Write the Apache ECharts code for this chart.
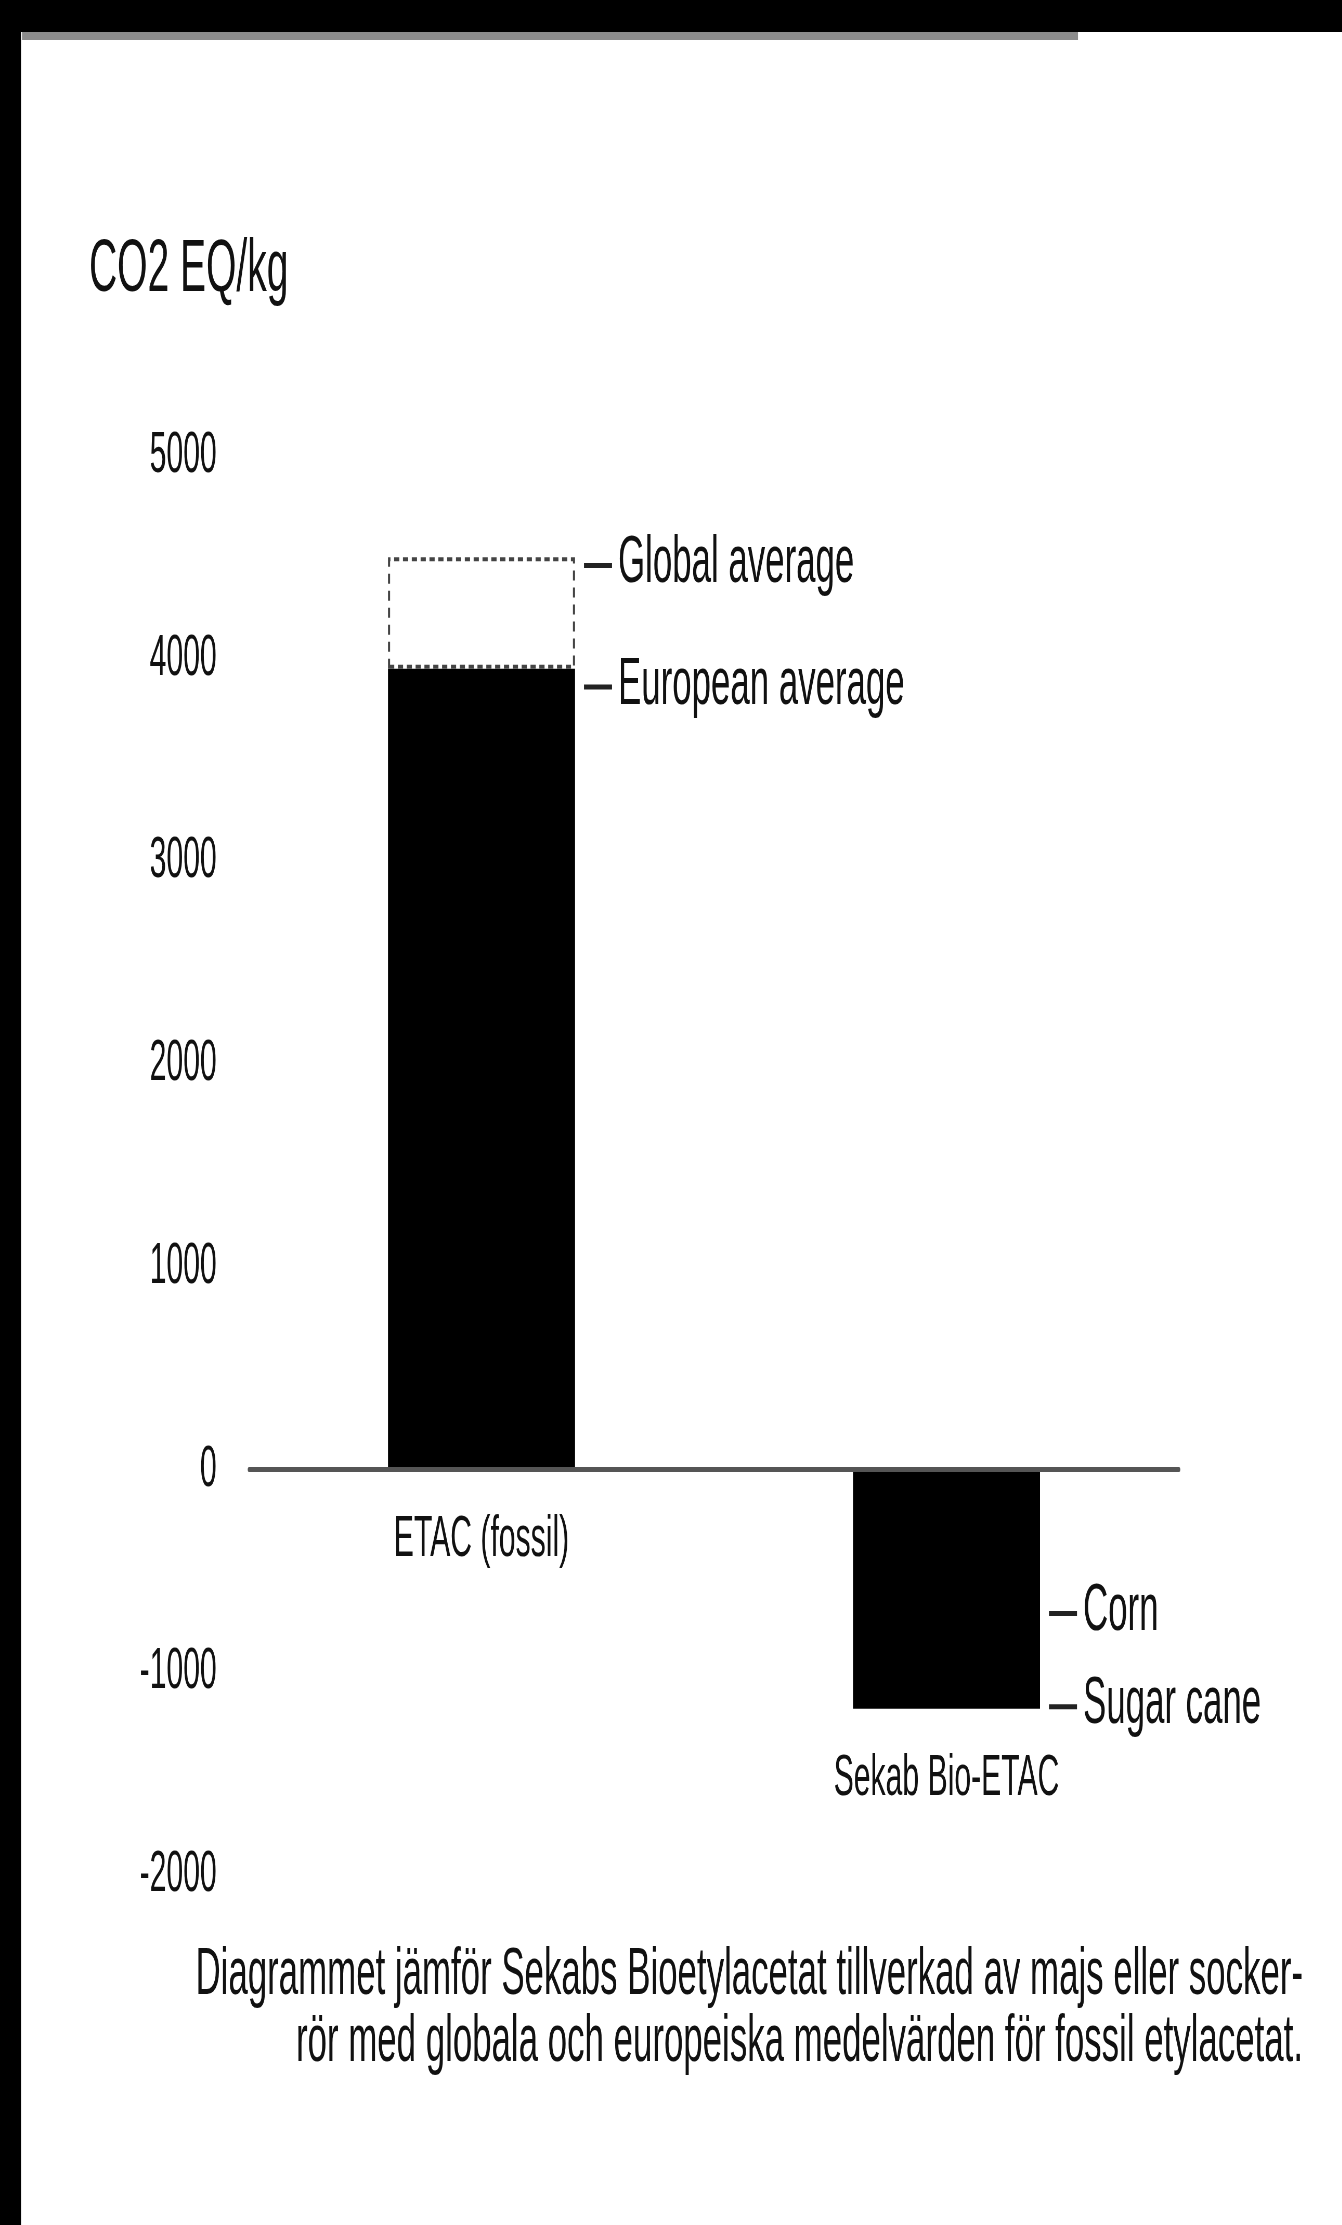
<!DOCTYPE html>
<html><head><meta charset="utf-8">
<script src="https://cdn.jsdelivr.net/npm/echarts@6/dist/echarts.min.js"></script>
<style>
html,body{margin:0;padding:0;background:#fff;overflow:hidden;}
#wrap{width:1342px;height:2225px;overflow:hidden;position:relative;background:#fff;}
#chart{width:2581px;height:2225px;transform:scaleX(0.52);transform-origin:0 0;}
</style></head><body><div id="wrap"><div id="chart"></div></div>
<script>
// ---- data ----
const categories = ['ETAC (fossil)', 'Sekab Bio-ETAC'];
const barValues = [3950, -1180];           // European average (fossil), sugar cane (bio)
const globalAverage = [4500, null];        // dashed box top for fossil ETAC
const markerCategory = [0, 0, 1, 1];
const markerValues = [4460, 3860, -710, -1170];
const markerLabels = ['Global average', 'European average', 'Corn', 'Sugar cane'];
const yMin = -2000, yMax = 5000, yInterval = 1000;
const yAxisTitle = 'CO2 EQ/kg';
const captionLines = [
  'Diagrammet jämför Sekabs Bioetylacetat tillverkad av majs eller socker-',
  'rör med globala och europeiska medelvärden för fossil etylacetat.'
];

// ---- layout / style ----
const SX = 0.52;                 // horizontal compression of the whole drawing
const W = 2581, H = 2225;
const px = x => x / SX;
const FONT = "'Liberation Sans', Arial, sans-serif";
const BAR_W = px(187);

const chart = echarts.init(document.getElementById('chart'), null, {renderer: 'canvas', width: W, height: H});
const option = {
  backgroundColor: '#fff',
  animation: false,
  grid: {left: px(249), right: W - px(1179), top: 456, bottom: 350, containLabel: false, outerBoundsMode: 'none'},
  xAxis: {
    type: 'category', data: categories, z: 5,
    axisLine: {show: true, onZero: true, lineStyle: {color: '#555', width: 5}},
    axisTick: {show: false},
    splitLine: {show: false},
    axisLabel: {show: false}
  },
  yAxis: {
    type: 'value', min: yMin, max: yMax, interval: yInterval,
    axisLine: {show: false}, axisTick: {show: false}, splitLine: {show: false},
    axisLabel: {margin: 62, color: '#111', fontFamily: FONT, fontSize: 58, formatter: v => String(v)}
  },
  series: [
    {
      type: 'bar', name: 'main', stack: 'etac', barWidth: BAR_W, z: 2,
      data: barValues,
      itemStyle: {color: '#000'}
    },
    {
      type: 'bar', name: 'global', stack: 'etac', barWidth: BAR_W, z: 2,
      data: globalAverage.map((g, i) => g == null ? '-' : g - barValues[i]),
      itemStyle: {color: 'rgba(255,255,255,0)', borderColor: '#444', borderWidth: 4, borderType: [10, 7]}
    },
    {
      type: 'custom', name: 'categoryLabels', coordinateSystem: 'cartesian2d', z: 6, clip: false,
      encode: {x: 0, y: 1},
      data: categories.map((c, i) => [i, Math.min(0, barValues[i])]),
      renderItem: (params, api) => {
        const p = api.coord([api.value(0), api.value(1)]);
        return {type: 'text', style: {x: p[0], y: p[1] + 70, text: categories[params.dataIndex],
          fill: '#111', font: '58px ' + FONT, align: 'center', verticalAlign: 'middle'}};
      }
    },
    {
      type: 'custom', name: 'markers', coordinateSystem: 'cartesian2d', z: 6, clip: false,
      encode: {x: 0, y: 1},
      data: markerCategory.map((c, i) => [c, markerValues[i]]),
      renderItem: (params, api) => {
        const p = api.coord([api.value(0), api.value(1)]);
        const x0 = p[0] + BAR_W / 2 + px(9);
        const x1 = x0 + px(28);
        const y = p[1];
        return {
          type: 'group', children: [
            {type: 'line', shape: {x1: x0, y1: y, x2: x1, y2: y},
             style: {stroke: '#222', lineWidth: 5}},
            {type: 'text', style: {x: x1 + px(6), y: y - 2, text: markerLabels[params.dataIndex],
             fill: '#111', font: '67px ' + FONT, verticalAlign: 'middle', align: 'left'}}
          ]
        };
      }
    }
  ],
  graphic: [
    {type: 'rect', z: 10, shape: {x: 0, y: 0, width: W, height: 32}, style: {fill: '#000'}},
    {type: 'rect', z: 10, shape: {x: 0, y: 0, width: px(21), height: H}, style: {fill: '#000'}},
    {type: 'rect', z: 10, shape: {x: px(22), y: 32, width: px(1078) - px(22), height: 8}, style: {fill: '#8c8c8c'}},
    {type: 'text', z: 10, x: px(89), y: 270,
     style: {text: yAxisTitle, font: '75px ' + FONT, fill: '#111', verticalAlign: 'middle', align: 'left'}},
    {type: 'text', z: 10, x: px(1303), y: 1942,
     style: {text: captionLines.join('\n'), font: '67px ' + FONT, lineHeight: 67, fill: '#111', align: 'right', verticalAlign: 'top'}}
  ]
};
chart.setOption(option);
</script></body></html>
